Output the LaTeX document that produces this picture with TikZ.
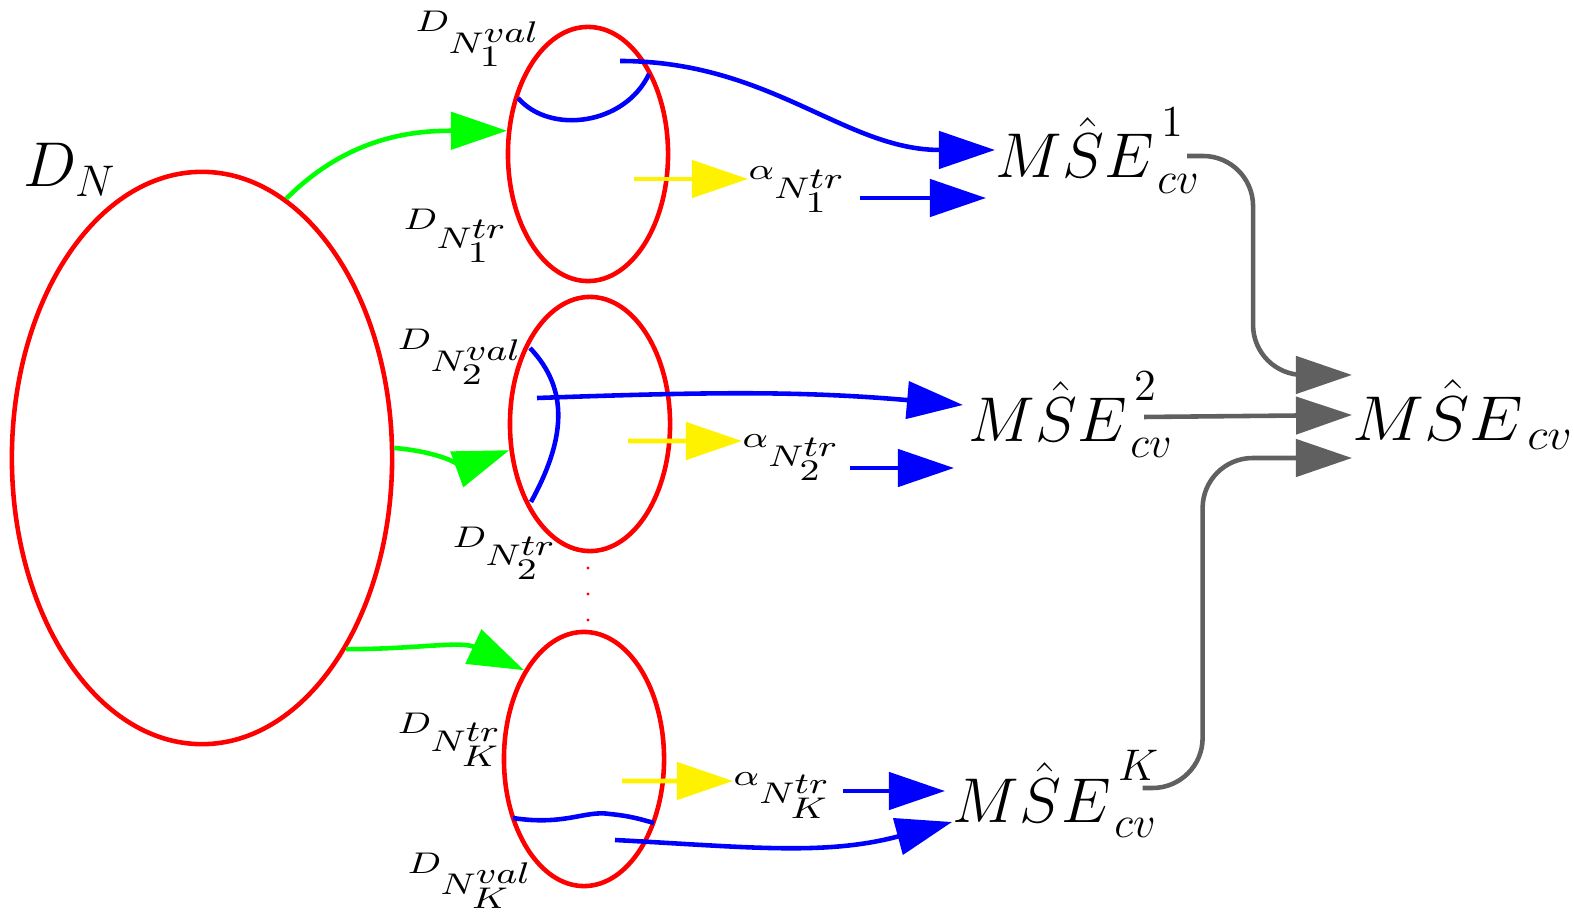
\RequirePackage{fix-cm}
\documentclass[tikz,border=0pt]{standalone}
\usepackage{amsmath}
\usepackage{graphicx}
\usepackage{xcolor}
\usepackage{tikz}
\usetikzlibrary{shapes.geometric, arrows.meta}
\definecolor{arrowgray}{RGB}{96,96,96}
\tikzstyle{bigset} = [ellipse, draw=red, line width=1.3pt, minimum width=3.8cm, minimum height=5.72cm, inner sep=0pt]
\tikzstyle{foldset} = [ellipse, draw=red, line width=1.3pt, minimum width=1.6cm, minimum height=2.54cm, inner sep=0pt]
\tikzstyle{setlabel} = [inner sep=0pt, anchor=base west, font=\fontsize{8.5}{10}\selectfont]
\tikzstyle{mselabel} = [inner sep=0pt, anchor=base west, font=\fontsize{18}{20}\selectfont]
\tikzstyle{splitline} = [line width=1.3pt, blue]
\tikzstyle{arrow} = [line width=1.3pt, -{Triangle[length=0.56cm, width=0.37cm]}]
\tikzstyle{greenarrow} = [arrow, green]
\tikzstyle{yellowarrow} = [arrow, yellow]
\tikzstyle{bluearrow} = [arrow, blue]
\tikzstyle{grayarrow} = [arrow, arrowgray, rounded corners=0.5cm]
\newcommand{\dsplit}[2]{\scalebox{1.25}[1]{$D_{\textstyle N^{\textstyle #1}_{\textstyle #2}}$}}
\newcommand{\alphasplit}[1]{\scalebox{1.25}[1]{$\alpha_{\textstyle N^{\textstyle tr}_{\textstyle #1}}$}}
\newcommand{\msefold}[1]{$M\hat{S}E^{\raisebox{0.3em}{$\scriptstyle\,#1$}}_{\,cv}$}

\begin{document}
\begin{tikzpicture}[x=0.01cm, y=-0.01cm]
    \useasboundingbox (0,0) rectangle (1574,919);

    % data set and folds
    \node (DN) [bigset] at (202,458) {};
    \node (f1) [foldset] at (588,154) {};
    \node (f2) [foldset] at (590,424) {};
    \node (fK) [foldset] at (584,759) {};
    \node (dnlabel) [mselabel] at (23,187) {$D_N$};
    \foreach \y in {568,594,620}
        \fill [red] (588,\y) circle (1.6);

    \node (d1val) [setlabel] at (415,32) {\dsplit{val}{1}};
    \node (d1tr) [setlabel] at (403,230) {\dsplit{tr}{1}};
    \node (d2val) [setlabel] at (397,350) {\dsplit{val}{2}};
    \node (d2tr) [setlabel] at (452,547) {\dsplit{tr}{2}};
    \node (dKtr) [setlabel] at (397,733) {\dsplit{tr}{K}};
    \node (dKval) [setlabel] at (407,873) {\dsplit{val}{K}};

    \draw [splitline] (518,98) .. controls (550,135) and (625,125) .. (649,74);
    \draw [splitline] (530,348) .. controls (570,390) and (565,440) .. (531,502);
    \draw [splitline] (513,818) .. controls (565,826) and (585,810) .. (610,814) .. controls (630,816) and (640,819) .. (654,823);

    % trained parameters and estimates
    \node (a1) [setlabel] at (748,180) {\alphasplit{1}};
    \node (a2) [setlabel] at (742,448) {\alphasplit{2}};
    \node (aK) [setlabel] at (733,785) {\alphasplit{K}};
    \node (m1) [mselabel] at (995,178) {\msefold{1}};
    \node (m2) [mselabel] at (968,442) {\msefold{2}};
    \node (mK) [mselabel] at (952,822) {\msefold{K}};
    \node (mcv) [mselabel] at (1352,440) {\scalebox{1.08}[1]{$M\hat{S}E_{\,cv}$}};

    \coordinate (t1) at (634,179);
    \coordinate (t2) at (628,441);
    \coordinate (tK) at (622,781);
    \coordinate (s1) at (620,61);
    \coordinate (s2) at (537,398);
    \coordinate (sK) at (615,840);

    \draw [greenarrow] (DN.72) to[out=45, in=180] (f1.164);
    \draw [greenarrow] (DN.3) to[out=-5, in=200] (f2.198);
    \draw [greenarrow] (DN.-53) to[out=0, in=155] (fK.124);

    \draw [yellowarrow] (t1) -- ([yshift=0.01cm]a1.base west);
    \draw [yellowarrow] (t2) -- ([yshift=0.07cm]a2.base west);
    \draw [yellowarrow] (tK) -- ([yshift=0.04cm]aK.base west);

    \draw [bluearrow] (s1) to[out=0, in=180] ([yshift=0.28cm]m1.base west);
    \draw [bluearrow] (s2) to[out=2, in=175] ([xshift=-0.05cm, yshift=0.37cm]m2.base west);
    \draw [bluearrow] (sK) to[out=-3, in=195] (mK.base west);

    \draw [bluearrow, shorten >=0.09cm] ([xshift=0.12cm, yshift=-0.18cm]a1.base east) -- ([yshift=-0.18cm]a1.base east -| m1.west);
    \draw [bluearrow, shorten >=0.14cm] ([xshift=0.08cm, yshift=-0.2cm]a2.base east) -- ([yshift=-0.2cm]a2.base east -| m2.west);
    \draw [bluearrow, shorten >=0.07cm] ([xshift=0.1cm, yshift=-0.06cm]aK.base east) -- ([yshift=-0.06cm]aK.base east -| mK.west);

    \draw [grayarrow] ([xshift=-0.14cm, yshift=0.22cm]m1.base east) -- ++(66,0) |- ([yshift=0.65cm]mcv.base west);
    \draw [grayarrow] ([xshift=-0.3cm, yshift=0.25cm]m2.base east) -- ([yshift=0.25cm]mcv.base west);
    \draw [grayarrow] ([xshift=-0.18cm, yshift=0.34cm]mK.base east) -- ++(60,0) |- ([yshift=-0.18cm]mcv.base west);

\end{tikzpicture}
\end{document}
